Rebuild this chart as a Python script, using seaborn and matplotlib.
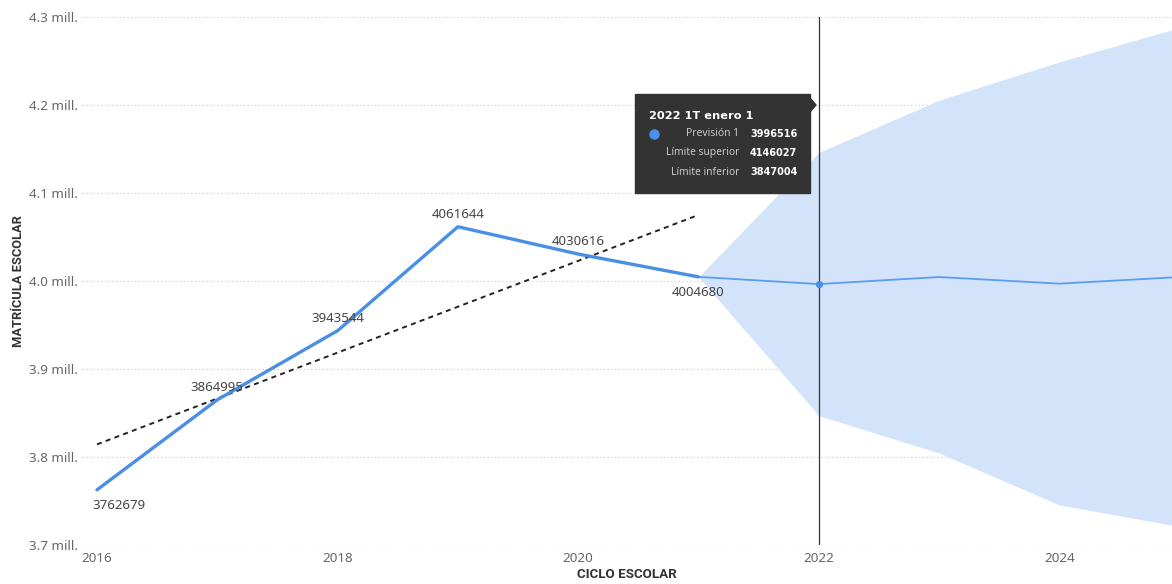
import numpy as np
import pandas as pd
import matplotlib
matplotlib.use("Agg")
import matplotlib.pyplot as plt
from matplotlib.patches import Rectangle, Polygon
from matplotlib.lines import Line2D
import seaborn as sns

# Historical enrolment per school cycle
years_hist = [2016, 2017, 2018, 2019, 2020, 2021]
matricula = [3762679, 3864995, 3943544, 4061644, 4030616, 4004680]

# Forecast with confidence interval (starts from the last observed value)
years_fc = [2021, 2022, 2023, 2024, 2025]
prevision = [4004680, 3996516, 4004500, 3997000, 4004500]
limite_sup = [4004680, 4146027, 4205500, 4249000, 4288000]
limite_inf = [4004680, 3847004, 3804500, 3745500, 3721000]

y_ticks = [3.7e6, 3.8e6, 3.9e6, 4.0e6, 4.1e6, 4.2e6, 4.3e6]
y_ticklabels = ["3.7 mill.", "3.8 mill.", "3.9 mill.", "4.0 mill.", "4.1 mill.", "4.2 mill.", "4.3 mill."]
x_ticks = [2016, 2018, 2020, 2022, 2024]

tooltip_title = "2022 1T enero 1"
tooltip_rows = [("Previsión 1", "3996516"),
                ("Límite superior", "4146027"),
                ("Límite inferior", "3847004")]

sns.set_theme(style="white")
plt.rcParams["font.family"] = ["Noto Sans", "DejaVu Sans"]

W, H = 1172, 584
fig = plt.figure(figsize=(W / 100, H / 100), dpi=100)
ax = fig.add_axes([82 / W, (H - 545) / H, (W - 82) / W, 528 / H])

hist = pd.DataFrame({"ciclo": years_hist, "matricula": matricula})
fc = pd.DataFrame({"ciclo": years_fc, "prevision": prevision,
                   "sup": limite_sup, "inf": limite_inf})

line_blue = "#4a8ee6"
band_blue = "#d3e4fa"

ax.fill_between(fc["ciclo"], fc["inf"], fc["sup"], color=band_blue, lw=0, zorder=1)
sns.lineplot(data=fc, x="ciclo", y="prevision", ax=ax, color="#5b9cf0", lw=1.3, zorder=3)
sns.lineplot(data=hist, x="ciclo", y="matricula", ax=ax, color=line_blue, lw=2.4, zorder=4)
sns.regplot(data=hist, x="ciclo", y="matricula", ax=ax, scatter=False, ci=None,
            truncate=True, line_kws=dict(color="#222222", lw=1.4, ls=(0, (2.6, 2.2))))

# Point labels: above or below each vertex (first one nudged inside the plot)
offsets = [(16, -11), (0, 9), (0, 9), (0, 9), (0, 9), (0, -11)]
for x, y, off in zip(years_hist, matricula, offsets):
    ax.annotate(str(y), (x, y), xytext=off, textcoords="offset points",
                ha="center", va="center", fontsize=9.5, color="#444444", zorder=6)

# Hover cursor at 2022
ax.axvline(2022, color="#333333", lw=0.9, zorder=5)
ax.scatter([2022], [prevision[1]], s=18, color=line_blue, zorder=6)

ax.set_xlim(2016 - 15 / 120.3, 2016 + (W - 97) / 120.3)
ax.set_ylim(3.7e6, 4.3e6)
ax.set_yticks(y_ticks)
ax.set_yticklabels(y_ticklabels)
ax.set_xticks(x_ticks)
ax.set_xticklabels([str(t) for t in x_ticks])
ax.tick_params(axis="both", length=0, labelsize=9.7, labelcolor="#666666")
ax.tick_params(axis="y", pad=3)
ax.tick_params(axis="x", pad=5)
ax.grid(axis="y", color="#d0d0d0", ls=(0, (1, 2)), lw=0.9)
ax.grid(axis="x", visible=False)
for s in ax.spines.values():
    s.set_visible(False)
ax.set_xlabel("CICLO ESCOLAR", fontsize=9.6, fontweight="bold", color="#333333",
              family=["Roboto", "DejaVu Sans"], labelpad=2)
ax.set_ylabel("MATRÍCULA ESCOLAR", fontsize=9.3, fontweight="bold", color="#333333",
              family=["Roboto", "DejaVu Sans"], labelpad=3)


# Tooltip (figure pixel coordinates)
def fx(px):
    return px / W


def fy(py):
    return 1 - py / H


box = Rectangle((fx(635), fy(193)), fx(810) - fx(635), fy(94) - fy(193),
                transform=fig.transFigure, color="#333333", zorder=20)
fig.patches.append(box)
tri = Polygon([(fx(810), fy(98)), (fx(816), fy(105)), (fx(810), fy(112))],
              closed=True, transform=fig.transFigure, color="#333333", zorder=20)
fig.patches.append(tri)
fig.text(fx(649), fy(116), tooltip_title, color="white", fontsize=8.2,
         fontweight="bold", family=["DejaVu Sans"], ha="left", va="center", zorder=21)
fig.add_artist(Line2D([fx(654)], [fy(134)], marker="o", markersize=7.5, color="#4a8ff0",
                      markeredgewidth=0, transform=fig.transFigure, zorder=21))
for i, (lab, val) in enumerate(tooltip_rows):
    yy = fy(134 + 19 * i)
    fig.text(fx(739), yy, lab, color="#c8c8c8", fontsize=7.4, ha="right", va="center", zorder=21)
    fig.text(fx(750), yy, val, color="white", fontsize=7.0, fontweight="bold",
             family=["DejaVu Sans"], ha="left", va="center", zorder=21)

fig.savefig("out.png", dpi=100)
